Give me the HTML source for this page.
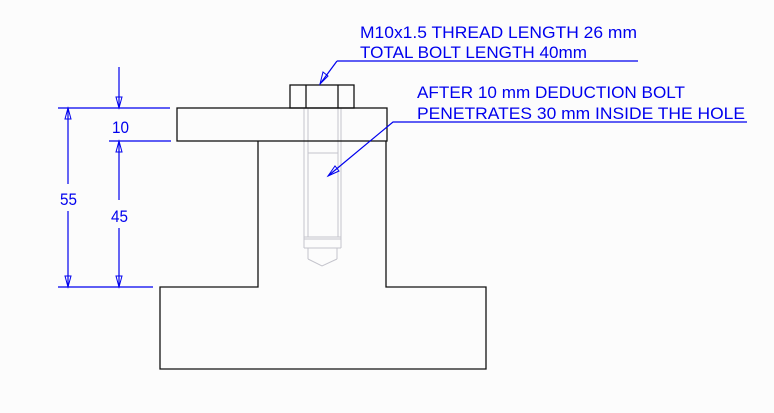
<!DOCTYPE html>
<html><head><style>html,body{margin:0;padding:0;background:#fcfcfc}svg{display:block}</style></head>
<body>
<svg width="774" height="413" viewBox="0 0 774 413" xmlns="http://www.w3.org/2000/svg">
<rect width="774" height="413" fill="#fcfcfc"/>
<g stroke="#c4c4cc" stroke-width="1" fill="none">
<line x1="304" y1="108" x2="304" y2="248"/><line x1="341" y1="108" x2="341" y2="248"/>
<line x1="308" y1="108" x2="308" y2="237"/><line x1="338" y1="108" x2="338" y2="237"/>
<line x1="308" y1="153" x2="338" y2="153"/>
<line x1="304" y1="237" x2="341" y2="237"/><line x1="304" y1="239" x2="341" y2="239"/>
<line x1="304" y1="248" x2="341" y2="248"/>
<polyline points="308,259 322,266 337,259"/>
<line x1="308" y1="248" x2="308" y2="259"/><line x1="337" y1="248" x2="337" y2="259"/>
</g>
<g stroke="#111" stroke-width="1.3" fill="none">
<rect x="290" y="85" width="64" height="23"/>
<line x1="306" y1="85" x2="306" y2="108"/><line x1="338" y1="85" x2="338" y2="108"/>
<rect x="177" y="108" width="210" height="33"/>
<polyline points="258,141 258,287 160,287 160,369 486,369 486,287 386,287 386,141"/>
</g>
<g stroke="#0000ee" stroke-width="1.2" fill="none">
<line x1="58" y1="108" x2="170" y2="108"/>
<line x1="109" y1="141" x2="171" y2="141"/>
<line x1="58" y1="287" x2="153" y2="287"/>
<line x1="68" y1="108" x2="68" y2="184"/><line x1="68" y1="211" x2="68" y2="287"/>
<line x1="119" y1="67" x2="119" y2="108"/>
<line x1="119" y1="141" x2="119" y2="200"/><line x1="119" y1="228" x2="119" y2="287"/>
<polyline points="337,61 638,61"/><polyline points="320,84 337,61"/>
<polyline points="328,176 393,122 747,122"/>
</g>
<g fill="none" stroke="#0000ee" stroke-width="1">
<path d="M119,108 l-3,-11 h6 z"/>
<path d="M119,141 l-3,11 h6 z"/>
<path d="M68,108 l-3,11 h6 z"/>
<path d="M68,287 l-3,-11 h6 z"/>
<path d="M119,287 l-3,-11 h6 z"/>
<path d="M320,84 l3,-12 l5,4 z"/>
<path d="M328,176 l7,-10 l4,5 z"/>
</g>
<g fill="#0000ee" font-family="Liberation Sans, sans-serif" font-size="17">
<text x="112" y="133" textLength="17" lengthAdjust="spacingAndGlyphs">10</text>
<text x="60" y="205" textLength="17" lengthAdjust="spacingAndGlyphs">55</text>
<text x="111" y="222" textLength="17" lengthAdjust="spacingAndGlyphs">45</text>
<text x="360" y="38" textLength="277" lengthAdjust="spacingAndGlyphs">M10x1.5 THREAD LENGTH 26 mm</text>
<text x="360" y="58" textLength="227" lengthAdjust="spacingAndGlyphs">TOTAL BOLT LENGTH 40mm</text>
<text x="417" y="98" textLength="268" lengthAdjust="spacingAndGlyphs">AFTER 10 mm DEDUCTION BOLT</text>
<text x="417" y="119" textLength="328" lengthAdjust="spacingAndGlyphs">PENETRATES 30 mm INSIDE THE HOLE</text>
</g>
</svg>
</body></html>
